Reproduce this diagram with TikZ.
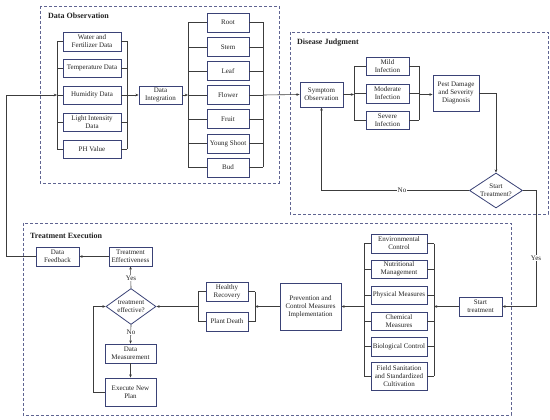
\documentclass[tikz,border=0pt]{standalone}
\usepackage{fontspec}
\setmainfont{Liberation Serif}
\usetikzlibrary{arrows.meta,shapes.geometric}
\definecolor{boxc}{RGB}{58,66,118}
\definecolor{framec}{RGB}{95,100,145}
\definecolor{linec}{RGB}{60,60,60}
\definecolor{txtc}{RGB}{35,35,35}
\begin{document}
\begin{tikzpicture}[x=1pt,y=-1pt,
  box/.style={draw=boxc,line width=0.8pt,rectangle,inner sep=0pt,align=center,
    font=\fontsize{7}{8.1}\selectfont,text=txtc,fill=white},
  dia/.style={draw=boxc,line width=0.8pt,diamond,inner sep=-2pt,align=center,
    font=\fontsize{7}{8.1}\selectfont,text=txtc,fill=white},
  frame/.style={draw=framec,line width=0.8pt,dash pattern=on 3pt off 2pt},
  ttl/.style={font=\fontsize{8}{9}\selectfont\bfseries,text=txtc,anchor=west,inner sep=0pt},
  conn/.style={draw=linec,line width=0.6pt},
  arr/.style={conn,-{Stealth[length=3.2pt,width=2.6pt]}},
  lbl/.style={font=\fontsize{7}{8.1}\selectfont,text=txtc,fill=white,inner sep=0.8pt}]
\useasboundingbox (0,0) rectangle (550,420);
\fill[white] (0,0) rectangle (550,420);

% frames
\draw[frame] (40,6) rectangle (279,183);
\node[ttl] (t1) at (48,16) {Data Observation};
\draw[frame] (290,32) rectangle (548,214);
\node[ttl] (t2) at (297,43) {Disease Judgment};
\draw[frame] (23,223) rectangle (511,415);
\node[ttl] (t3) at (30,236) {Treatment Execution};

% Data observation
\node[box,minimum width=58,minimum height=19] (wf) at (92,41.5) {Water and\\Fertilizer Data};
\node[box,minimum width=58,minimum height=18] (tp) at (92,68) {Temperature Data};
\node[box,minimum width=58,minimum height=18] (hu) at (92,95) {Humidity Data};
\node[box,minimum width=58,minimum height=18] (li) at (92,122) {Light Intensity\\Data};
\node[box,minimum width=58,minimum height=18] (ph) at (92,149) {PH Value};
\coordinate (lb1) at (57,95);
\coordinate (rb1) at (127,95);
\draw[conn] (wf.west -| lb1) -- (ph.west -| lb1);
\draw[conn] (wf.east -| rb1) -- (ph.east -| rb1);
\foreach \n in {wf,tp,hu,li,ph}{
  \draw[conn] (\n.west) -- (\n.west -| lb1);
  \draw[conn] (\n.east) -- (\n.east -| rb1);
}
\node[box,minimum width=43,minimum height=18] (di) at (160.5,95) {Data\\Integration};
\draw[arr] (rb1) -- (di.west);

\node[box,minimum width=42,minimum height=19] (ro) at (228,22.5) {Root};
\node[box,minimum width=42,minimum height=19] (sm) at (228,47) {Stem};
\node[box,minimum width=42,minimum height=19] (le) at (228,71) {Leaf};
\node[box,minimum width=42,minimum height=19] (fl) at (228,95) {Flower};
\node[box,minimum width=42,minimum height=19] (fr) at (228,119) {Fruit};
\node[box,minimum width=42,minimum height=19] (ys) at (228,143.5) {Young Shoot};
\node[box,minimum width=42,minimum height=19] (bu) at (228,167.5) {Bud};
\coordinate (lb2) at (188,95);
\coordinate (rb2) at (263,95);
\draw[conn] (ro.west -| lb2) -- (bu.west -| lb2);
\draw[conn] (ro.east -| rb2) -- (bu.east -| rb2);
\foreach \n in {ro,sm,le,fl,fr,ys,bu}{
  \draw[conn] (\n.west) -- (\n.west -| lb2);
  \draw[conn] (\n.east) -- (\n.east -| rb2);
}
\draw[arr] (di.east) -- (lb2);

% Disease judgment
\node[box,minimum width=43,minimum height=25] (so) at (321.5,94.5) {Symptom\\Observation};
\draw[arr] (rb2) -- (so.west);
\node[box,minimum width=43,minimum height=18] (mi) at (387.5,66) {Mild\\Infection};
\node[box,minimum width=43,minimum height=19] (mo) at (387.5,93.5) {Moderate\\Infection};
\node[box,minimum width=43,minimum height=18] (se) at (387.5,120) {Severe\\Infection};
\coordinate (lb3) at (354,94.5);
\coordinate (rb3) at (419,94.5);
\draw[conn] (mi.west -| lb3) -- (se.west -| lb3);
\draw[conn] (mi.east -| rb3) -- (se.east -| rb3);
\foreach \n in {mi,mo,se}{
  \draw[conn] (\n.west) -- (\n.west -| lb3);
  \draw[conn] (\n.east) -- (\n.east -| rb3);
}
\draw[arr] (so.east) -- (lb3);
\node[box,minimum width=46,minimum height=36] (pd) at (456,93) {Pest Damage\\and Severity\\Diagnosis};
\draw[arr] (rb3) -- (rb3 -| pd.west);
\node[dia,minimum width=53,minimum height=35,aspect=1.5] (st) at (496,190.5) {Start\\Treatment?};
\draw[arr] (pd.east) -| (st.north);
\draw[arr] (st.west) -| (so.south);
\node[lbl] (no1) at (402,190.5) {No};

% Treatment execution
\node[box,minimum width=43,minimum height=19] (stt) at (480.5,306.5) {Start\\treatment};
\coordinate (yc) at (536,306.5);
\draw[arr] (st.east) -| (yc) -- (stt.east);
\node[lbl] (yes1) at (536,258) {Yes};

\node[box,minimum width=56,minimum height=19] (en) at (399,243.5) {Environmental\\Control};
\node[box,minimum width=56,minimum height=18] (nu) at (399,269) {Nutritional\\Management};
\node[box,minimum width=56,minimum height=18] (py) at (399,295) {Physical Measures};
\node[box,minimum width=56,minimum height=18] (ch) at (399,321) {Chemical\\Measures};
\node[box,minimum width=56,minimum height=19] (bi) at (399,346.5) {Biological Control};
\node[box,minimum width=56,minimum height=28] (fs) at (399,376) {Field Sanitation\\and Standardized\\Cultivation};
\coordinate (lb4) at (364,306.5);
\coordinate (rb4) at (434,306.5);
\draw[conn] (en.west -| lb4) -- (fs.west -| lb4);
\draw[conn] (en.east -| rb4) -- (fs.east -| rb4);
\foreach \n in {en,nu,py,ch,bi,fs}{
  \draw[conn] (\n.west) -- (\n.west -| lb4);
  \draw[conn] (\n.east) -- (\n.east -| rb4);
}
\draw[arr] (stt.west) -- (rb4);
\node[box,minimum width=61,minimum height=47] (pc) at (310.5,306.5) {Prevention and\\Control Measures\\Implementation};
\draw[arr] (lb4) -- (pc.east);

\node[box,minimum width=42,minimum height=19] (hr) at (227,291.5) {Healthy\\Recovery};
\node[box,minimum width=42,minimum height=19] (pl) at (227,321.5) {Plant Death};
\coordinate (lb5) at (198,306.5);
\coordinate (rb5) at (255,306.5);
\draw[conn] (hr.west -| lb5) -- (pl.west -| lb5);
\draw[conn] (hr.east -| rb5) -- (pl.east -| rb5);
\foreach \n in {hr,pl}{
  \draw[conn] (\n.west) -- (\n.west -| lb5);
  \draw[conn] (\n.east) -- (\n.east -| rb5);
}
\draw[arr] (pc.west) -- (rb5);

\node[dia,minimum width=50,minimum height=36,aspect=1.4] (te) at (131,306.5) {treatment\\effective?};
\draw[arr] (lb5) -- (te.east);
\node[box,minimum width=43,minimum height=19] (tef) at (130.5,256.5) {Treatment\\Effectiveness};
\draw[arr] (te.north) -- (tef.south);
\node[lbl] (yes2) at (131,278) {Yes};
\node[box,minimum width=43,minimum height=19] (fb) at (57.5,256.5) {Data\\Feedback};
\draw[arr] (tef.west) -- (fb.east);
\coordinate (fbc) at (6,95);
\draw[arr] (fb.west) -| (fbc) -- (lb1);

\node[box,minimum width=51,minimum height=19] (dm) at (130.5,353.5) {Data\\Measurement};
\draw[arr] (te.south) -- (dm.north);
\node[lbl] (no2) at (131,332) {No};
\node[box,minimum width=51,minimum height=28] (ep) at (130.5,392) {Execute New\\Plan};
\draw[arr] (dm.south) -- (ep.north);
\coordinate (lc) at (93,306.5);
\draw[arr] (ep.west) -| (lc) -- (te.west);
\end{tikzpicture}
\end{document}
